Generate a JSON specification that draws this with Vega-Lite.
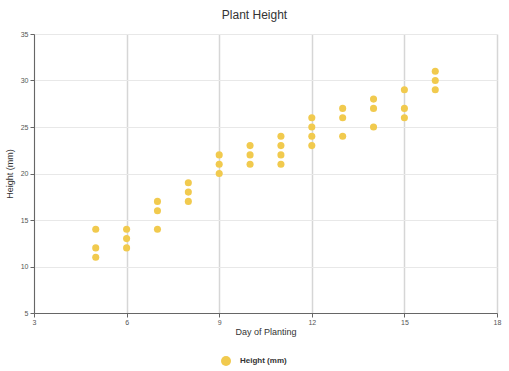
{
  "$schema": "https://vega.github.io/schema/vega-lite/v6.json",
  "width": 463,
  "height": 279,
  "autosize": "none",
  "padding": {"left": 34, "top": 34, "right": 12, "bottom": 58},
  "background": "white",
  "title": {"text": "Plant Height", "fontSize": 12, "font": "Liberation Sans", "fontWeight": "normal", "color": "#333", "anchor": "middle", "dx": -11, "offset": 8},
  "data": {"values": [
    {"day": 5, "height": 14}, {"day": 5, "height": 12}, {"day": 5, "height": 11},
    {"day": 6, "height": 14}, {"day": 6, "height": 13}, {"day": 6, "height": 12},
    {"day": 7, "height": 17}, {"day": 7, "height": 16}, {"day": 7, "height": 14},
    {"day": 8, "height": 19}, {"day": 8, "height": 18}, {"day": 8, "height": 17},
    {"day": 9, "height": 22}, {"day": 9, "height": 21}, {"day": 9, "height": 20},
    {"day": 10, "height": 23}, {"day": 10, "height": 22}, {"day": 10, "height": 21},
    {"day": 11, "height": 24}, {"day": 11, "height": 23}, {"day": 11, "height": 22}, {"day": 11, "height": 21},
    {"day": 12, "height": 26}, {"day": 12, "height": 25}, {"day": 12, "height": 24}, {"day": 12, "height": 23},
    {"day": 13, "height": 27}, {"day": 13, "height": 26}, {"day": 13, "height": 24},
    {"day": 14, "height": 28}, {"day": 14, "height": 27}, {"day": 14, "height": 25},
    {"day": 15, "height": 29}, {"day": 15, "height": 27}, {"day": 15, "height": 26},
    {"day": 16, "height": 31}, {"day": 16, "height": 30}, {"day": 16, "height": 29}
  ]},
  "mark": {"type": "circle", "size": 50, "opacity": 1},
  "encoding": {
    "x": {"field": "day", "type": "quantitative", "scale": {"domain": [3, 18], "nice": false, "zero": false},
      "axis": {"values": [3, 6, 9, 12, 15, 18], "title": "Day of Planting", "titleFontSize": 9, "titleFont": "Liberation Sans", "titleFontWeight": "normal", "titleColor": "#333", "titlePadding": 2,
        "labelFontSize": 7, "labelFont": "Liberation Sans", "labelColor": "#555", "labelPadding": 1, "labelFlush": false, "labelOverlap": false,
        "domainColor": "#666", "tickColor": "#666", "tickSize": 4,
        "gridColor": "#d6d6d6", "gridWidth": 1.5}},
    "y": {"field": "height", "type": "quantitative", "scale": {"domain": [5, 35], "nice": false, "zero": false},
      "axis": {"values": [5, 10, 15, 20, 25, 30, 35], "title": "Height (mm)", "titleFontSize": 9, "titleFont": "Liberation Sans", "titleFontWeight": "normal", "titleColor": "#333", "titlePadding": 6,
        "labelFontSize": 7, "labelFont": "Liberation Sans", "labelColor": "#555", "labelPadding": 2, "labelFlush": false, "labelOverlap": false,
        "domainColor": "#666", "tickColor": "#666", "tickSize": 4,
        "gridColor": "#e8e8e8", "gridWidth": 1}},
    "color": {"datum": "Height (mm)", "type": "nominal", "scale": {"range": ["#F1CA4E"]},
      "legend": {"title": null, "orient": "none", "legendX": 186, "legendY": 321, "symbolSize": 100, "symbolType": "circle", "symbolOpacity": 1,
        "labelFontSize": 8, "labelFont": "Liberation Sans", "labelFontWeight": "bold", "labelColor": "#333", "labelOffset": 8}}
  },
  "config": {"view": {"stroke": null}}
}
